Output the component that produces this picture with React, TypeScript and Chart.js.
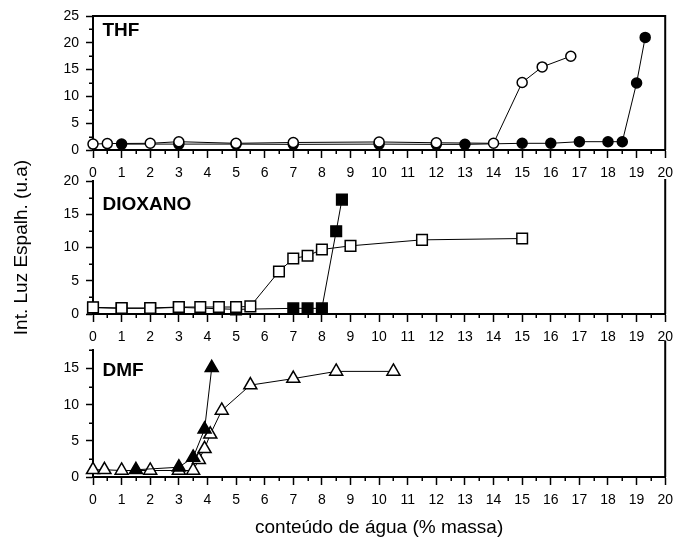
import React, { useEffect, useRef } from 'react';
import { Chart, registerables } from 'chart.js';

Chart.register(...registerables);

const FONT = '"Liberation Sans", Arial, Helvetica, sans-serif';

// ---- tick labels ----
const xTicks = [0, 1, 2, 3, 4, 5, 6, 7, 8, 9, 10, 11, 12, 13, 14, 15, 16, 17, 18, 19, 20];
const thfYTicks = [0, 5, 10, 15, 20, 25];
const dioxYTicks = [0, 5, 10, 15, 20];
const dmfYTicks = [0, 5, 10, 15];
const thfYMinor = [2.5, 7.5, 12.5, 17.5, 22.5];
const dioxYMinor = [2.5, 7.5, 12.5, 17.5];
const dmfYMinor = [2.5, 7.5, 12.5, 17.5];
const thfYMax = 25;
const dioxYMax = 20;
const dmfYMax = 17.5;

// ---- THF ----
const thfOpenX = [0, 0.5, 2, 3, 5, 7, 10, 12, 14, 15, 15.7, 16.7];
const thfOpenY = [1.1, 1.2, 1.25, 1.55, 1.25, 1.4, 1.5, 1.35, 1.25, 12.6, 15.5, 17.5];
const thfFilledX = [1, 3, 5, 7, 10, 12, 13, 15, 16, 17, 18, 18.5, 19, 19.3];
const thfFilledY = [1.1, 1.1, 1.1, 1.05, 1.1, 1.05, 1.05, 1.25, 1.25, 1.55, 1.55, 1.55, 12.5, 21.0];

// ---- DIOXANO ----
const dioxOpenX = [0, 1, 2, 3, 3.75, 4.4, 5, 5.5, 6.5, 7, 7.5, 8, 9, 11.5, 15];
const dioxOpenY = [1.0, 0.9, 0.9, 1.05, 1.05, 1.05, 1.05, 1.15, 6.4, 8.35, 8.75, 9.7, 10.25, 11.15, 11.35];
const dioxFilledX = [0, 1, 2, 3, 5, 7, 7.5, 8, 8.5, 8.7];
const dioxFilledY = [0.95, 0.85, 0.85, 1.0, 0.7, 0.85, 0.85, 0.85, 12.45, 17.2];

// ---- DMF ----
const dmfOpenX = [0, 0.4, 1, 2, 3, 3.5, 3.7, 3.9, 4.1, 4.5, 5.5, 7, 8.5, 10.5];
const dmfOpenY = [1.0, 1.0, 0.9, 0.9, 0.9, 0.9, 2.4, 3.9, 5.9, 9.2, 12.7, 13.6, 14.6, 14.6];
const dmfFilledX = [1.5, 3, 3.5, 3.9, 4.15];
const dmfFilledY = [1.0, 1.35, 2.7, 6.6, 15.1];

const yTitle = 'Int. Luz Espalh. (u.a)';
const xTitle = 'conteúdo de água (% massa)';

const xMinor = xTicks.slice(1).map((v, i) => (v + xTicks[i]) / 2);

type PanelCfg = {
  key: string;
  label: string;
  labelDy: number;
  top: number;
  height: number;
  padTop: number;
  xAxisHeight: number;
  yMax: number;
  yTicks: number[];
  yMinor: number[];
  openX: number[];
  openY: number[];
  filledX: number[];
  filledY: number[];
  filledOnTop: boolean;
  pointStyle: string;
  radius: number;
  showYTitle: boolean;
  showXTitle: boolean;
  topBorder: boolean;
  rightExtend: number;
};

const framePlugin = {
  id: 'frame',
  afterDraw(chart: any, _args: any, opts: any) {
    const { ctx, chartArea } = chart;
    const { left, right, top, bottom } = chartArea;
    const x = chart.scales.x;
    const y = chart.scales.y;
    ctx.save();
    ctx.strokeStyle = '#000';
    ctx.lineWidth = 2;
    ctx.beginPath();
    ctx.moveTo(right, top - opts.rightExtend);
    ctx.lineTo(right, bottom);
    if (opts.topBorder) {
      ctx.moveTo(left - 1, top);
      ctx.lineTo(right + 1, top);
    }
    ctx.stroke();
    ctx.lineWidth = 1.5;
    ctx.beginPath();
    for (const v of xMinor) {
      const px = Math.round(x.getPixelForValue(v)) + 0.25;
      ctx.moveTo(px, bottom);
      ctx.lineTo(px, bottom + 4);
    }
    for (const v of opts.yMinor) {
      const py = Math.round(y.getPixelForValue(v)) + 0.25;
      ctx.moveTo(left, py);
      ctx.lineTo(left - 4, py);
    }
    ctx.stroke();
    ctx.fillStyle = '#000';
    ctx.font = `bold 19px ${FONT}`;
    ctx.textBaseline = 'alphabetic';
    ctx.textAlign = 'left';
    ctx.fillText(opts.label, left + 9.5, top + opts.labelDy);
    ctx.restore();
  },
};

function buildConfig(cfg: PanelCfg): any {
  const open = {
    data: cfg.openX.map((x, i) => ({ x, y: cfg.openY[i] })),
    showLine: true,
    borderColor: '#000',
    borderWidth: 1,
    pointStyle: cfg.pointStyle,
    pointRadius: cfg.radius,
    pointBackgroundColor: '#fff',
    pointBorderColor: '#000',
    pointBorderWidth: 1.5,
    fill: false,
    tension: 0,
    clip: false,
  };
  const filled = {
    data: cfg.filledX.map((x, i) => ({ x, y: cfg.filledY[i] })),
    showLine: true,
    borderColor: '#000',
    borderWidth: 1,
    pointStyle: cfg.pointStyle,
    pointRadius: cfg.radius,
    pointBackgroundColor: '#000',
    pointBorderColor: '#000',
    pointBorderWidth: 1.5,
    fill: false,
    tension: 0,
    clip: false,
  };
  const datasets = cfg.filledOnTop ? [filled, open] : [open, filled];
  return {
    type: 'line',
    data: { datasets },
    plugins: [framePlugin],
    options: {
      responsive: false,
      animation: false,
      events: [],
      layout: { padding: { top: cfg.padTop, right: 9, bottom: 0, left: 0 } },
      plugins: {
        legend: { display: false },
        tooltip: { enabled: false },
        frame: {
          label: cfg.label,
          labelDy: cfg.labelDy,
          yMinor: cfg.yMinor,
          topBorder: cfg.topBorder,
          rightExtend: cfg.rightExtend,
        },
      },
      scales: {
        x: {
          type: 'linear',
          min: 0,
          max: 20,
          afterBuildTicks: (s: any) => {
            s.ticks = xTicks.map((v) => ({ value: v }));
          },
          afterFit: (s: any) => {
            s.height = cfg.xAxisHeight;
          },
          grid: {
            drawOnChartArea: false,
            drawTicks: true,
            tickLength: 8,
            tickColor: '#000',
            tickWidth: 1.5,
          },
          border: { display: true, color: '#000', width: 2 },
          ticks: {
            color: '#000',
            font: { family: FONT, size: 14 },
            padding: 7,
            maxRotation: 0,
            autoSkip: false,
          },
          title: {
            display: cfg.showXTitle,
            text: xTitle,
            color: '#000',
            font: { family: FONT, size: 19 },
            padding: { top: 0, bottom: 7 },
          },
        },
        y: {
          type: 'linear',
          min: 0,
          max: cfg.yMax,
          afterBuildTicks: (s: any) => {
            s.ticks = cfg.yTicks.map((v) => ({ value: v }));
          },
          afterFit: (s: any) => {
            s.width = 93;
          },
          grid: {
            drawOnChartArea: false,
            drawTicks: true,
            tickLength: 7,
            tickColor: '#000',
            tickWidth: 1.5,
          },
          border: { display: true, color: '#000', width: 2 },
          ticks: {
            color: '#000',
            font: { family: FONT, size: 14 },
            padding: 7,
            autoSkip: false,
          },
          title: {
            display: cfg.showYTitle,
            text: yTitle,
            color: '#000',
            font: { family: FONT, size: 19 },
            padding: { top: 10.6, bottom: 0 },
          },
        },
      },
    },
  };
}

const panels: PanelCfg[] = [
  {
    key: 'thf', label: 'THF', labelDy: 19.5, top: 0, height: 186, padTop: 16, xAxisHeight: 36,
    yMax: thfYMax, yTicks: thfYTicks, yMinor: thfYMinor,
    openX: thfOpenX, openY: thfOpenY, filledX: thfFilledX, filledY: thfFilledY, filledOnTop: false,
    pointStyle: 'circle', radius: 5, showYTitle: false, showXTitle: false, topBorder: true, rightExtend: 0,
  },
  {
    key: 'diox', label: 'DIOXANO', labelDy: 28.5, top: 110, height: 240, padTop: 71, xAxisHeight: 36,
    yMax: dioxYMax, yTicks: dioxYTicks, yMinor: dioxYMinor,
    openX: dioxOpenX, openY: dioxOpenY, filledX: dioxFilledX, filledY: dioxFilledY, filledOnTop: false,
    pointStyle: 'rect', radius: 7.5, showYTitle: true, showXTitle: false, topBorder: false, rightExtend: 2,
  },
  {
    key: 'dmf', label: 'DMF', labelDy: 25.5, top: 335, height: 211, padTop: 13, xAxisHeight: 69,
    yMax: dmfYMax, yTicks: dmfYTicks, yMinor: dmfYMinor,
    openX: dmfOpenX, openY: dmfOpenY, filledX: dmfFilledX, filledY: dmfFilledY, filledOnTop: true,
    pointStyle: 'triangle', radius: 7.5, showYTitle: false, showXTitle: true, topBorder: false, rightExtend: 10,
  },
];

function Panel({ cfg }: { cfg: PanelCfg }) {
  const ref = useRef<HTMLCanvasElement>(null);
  useEffect(() => {
    if (!ref.current) return;
    const chart = new Chart(ref.current, buildConfig(cfg));
    return () => chart.destroy();
  }, [cfg]);
  return (
    <canvas
      ref={ref}
      width={680}
      height={cfg.height}
      style={{ position: 'absolute', left: 0, top: cfg.top, width: 680, height: cfg.height, display: 'block' }}
    />
  );
}

export default function App() {
  return (
    <div style={{ position: 'absolute', left: 0, top: 0, width: 680, height: 546, background: '#fff', overflow: 'hidden' }}>
      {panels.map((p) => (
        <Panel key={p.key} cfg={p} />
      ))}
    </div>
  );
}
